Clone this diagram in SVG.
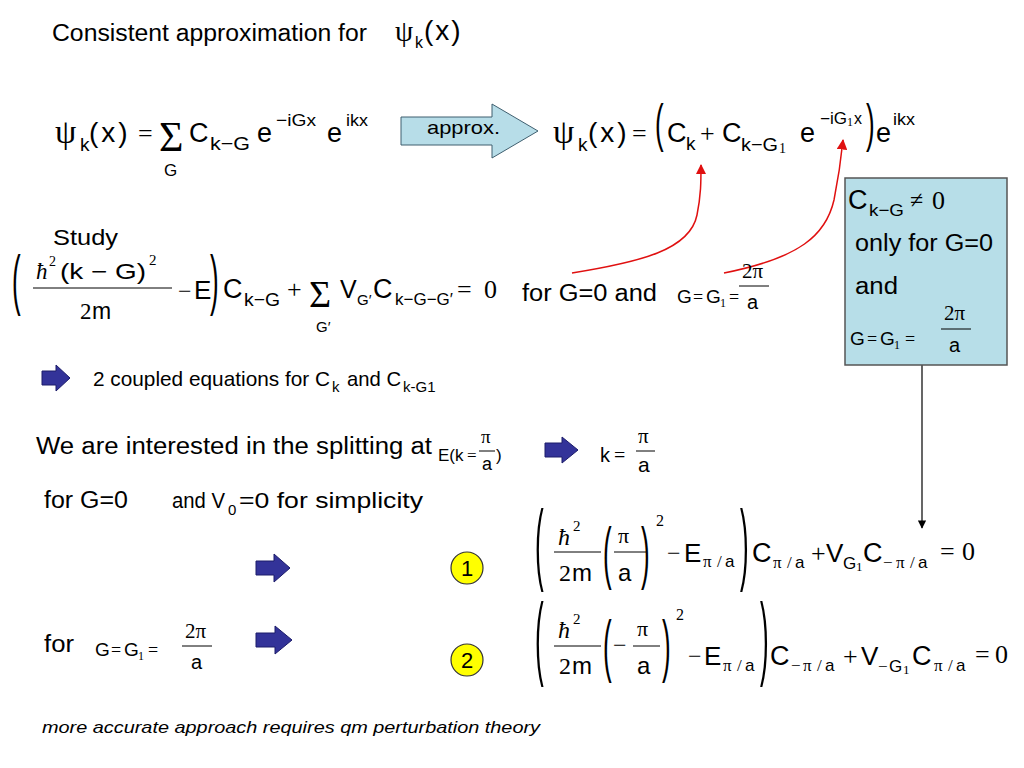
<svg xmlns="http://www.w3.org/2000/svg" width="1024" height="768" viewBox="0 0 1024 768">
<defs>
<style>
.s{font-family:"Liberation Sans",Arial,sans-serif;fill:#000}
.r{font-family:"Liberation Serif","Times New Roman",serif;fill:#000}
.it{font-style:italic}
.fl{stroke:#000;stroke-width:1}
.red{fill:none;stroke:#e01010;stroke-width:1.5}
.blk{fill:none;stroke:#000;stroke-width:1.2}
.bluearrow{fill:#333399;stroke:#1c1c6a;stroke-width:1}
.circ{fill:#ffff00;stroke:#333;stroke-width:1.2}
</style>
<marker id="mr" viewBox="0 0 10 10" refX="9" refY="5" markerWidth="7" markerHeight="7" orient="auto"><path d="M0,0 L10,5 L0,10 z" fill="#e01010"/></marker>
<marker id="mb" viewBox="0 0 10 10" refX="9" refY="5" markerWidth="7" markerHeight="7" orient="auto"><path d="M0,0 L10,5 L0,10 z" fill="#000"/></marker>
</defs>
<rect width="1024" height="768" fill="#fff"/>

<g id="title">
<text class="s" x="52" y="41" font-size="23" textLength="315" lengthAdjust="spacingAndGlyphs">Consistent approximation for</text>
<text class="r" x="395" y="41" font-size="29">ψ</text>
<text class="s" x="415" y="48" font-size="16">k</text>
<text class="s" x="424" y="40" font-size="28" letter-spacing="2">(x)</text>
</g>

<g id="eq-full">
<text class="r" x="55" y="143" font-size="34">ψ</text>
<text class="s" x="80" y="151" font-size="19">k</text>
<text class="s" x="89" y="142" font-size="28" letter-spacing="3">(x)</text>
<text class="r" x="138" y="142" font-size="26">=</text>
<text class="r" x="159" y="151" font-size="42">Σ</text>
<text class="s" x="164" y="176" font-size="17">G</text>
<text class="s" x="189" y="142" font-size="27">C</text>
<text class="s" x="210" y="150" font-size="19" textLength="40" lengthAdjust="spacingAndGlyphs">k−G</text>
<text class="s" x="257" y="142" font-size="27">e</text>
<text class="s" x="276" y="126" font-size="17" textLength="40" lengthAdjust="spacingAndGlyphs">−iGx</text>
<text class="s" x="327" y="142" font-size="27">e</text>
<text class="s" x="346" y="126" font-size="17" textLength="22" lengthAdjust="spacingAndGlyphs">ikx</text>
</g>

<g id="approx-arrow">
<polygon points="401,117 492,117 492,104 538,131 492,158 492,145 401,145" fill="#b7dde8" stroke="#3f5f6f" stroke-width="1"/>
<text class="s" x="427" y="134" font-size="19" textLength="73" lengthAdjust="spacingAndGlyphs">approx.</text>
</g>

<g id="eq-approx">
<text class="r" x="553" y="143" font-size="34">ψ</text>
<text class="s" x="578" y="151" font-size="19">k</text>
<text class="s" x="588" y="142" font-size="28" letter-spacing="3">(x)</text>
<text class="r" x="632" y="142" font-size="26">=</text>
<text class="s" font-size="26" transform="translate(655,141.2) scale(1,1.97)">(</text>
<text class="s" x="667" y="142" font-size="27">C</text>
<text class="s" x="686" y="150" font-size="19">k</text>
<text class="r" x="700" y="142" font-size="26">+</text>
<text class="s" x="722" y="142" font-size="27">C</text>
<text class="s" x="741" y="151" font-size="19" textLength="37" lengthAdjust="spacingAndGlyphs">k−G</text>
<text class="r" x="779" y="153" font-size="14">1</text>
<text class="s" x="800" y="142" font-size="27">e</text>
<text class="s" x="820" y="124" font-size="16" textLength="27" lengthAdjust="spacingAndGlyphs">−iG</text>
<text class="r" x="847" y="126" font-size="12">1</text>
<text class="s" x="854" y="124" font-size="16">x</text>
<text class="s" font-size="26" transform="translate(866,141.2) scale(1,1.97)">)</text>
<text class="s" x="876" y="142" font-size="27">e</text>
<text class="s" x="893" y="125" font-size="17" textLength="22" lengthAdjust="spacingAndGlyphs">ikx</text>
</g>

<g id="connectors">
<path class="red" d="M572,273 C640,262 690,250 697,215 C701,195 701,182 701,165" marker-end="url(#mr)"/>
<path class="red" d="M724,273 C800,258 826,235 834,200 C838,180 841,160 843,140" marker-end="url(#mr)"/>
<path class="blk" d="M922,365 L922,528" marker-end="url(#mb)"/>
</g>

<g id="condition-box">
<rect x="845" y="178" width="162" height="187" fill="#b7dee8" stroke="#555" stroke-width="1.5"/>
<text class="s" x="848" y="209" font-size="27">C</text>
<text class="s" x="869" y="216" font-size="17" textLength="35" lengthAdjust="spacingAndGlyphs">k−G</text>
<text class="r" x="910" y="208" font-size="24">≠</text>
<text class="r" x="932" y="209" font-size="26">0</text>
<text class="s" x="855" y="251" font-size="23" textLength="138" lengthAdjust="spacingAndGlyphs">only for G=0</text>
<text class="s" x="855" y="294" font-size="23" textLength="43" lengthAdjust="spacingAndGlyphs">and</text>
<text class="s" x="850" y="345" font-size="19">G</text>
<text class="r" x="867" y="345" font-size="18">=</text>
<text class="s" x="880" y="345" font-size="19">G</text>
<text class="r" x="894" y="349" font-size="12">1</text>
<text class="r" x="905" y="345" font-size="18">=</text>
<text class="r" x="944" y="320" font-size="21">2π</text>
<line class="fl" x1="941" y1="329" x2="971" y2="329"/>
<text class="s" x="949" y="352" font-size="20">a</text>
</g>

<g id="study">
<text class="s" x="53" y="245" font-size="22" textLength="65" lengthAdjust="spacingAndGlyphs">Study</text>
<text class="s" font-size="26" transform="translate(12,301.9) scale(1,2.58)">(</text>
<text class="r it" x="36" y="279" font-size="23">ħ</text>
<text class="r" x="49" y="266" font-size="14">2</text>
<text class="s" x="60" y="279" font-size="22" textLength="86" lengthAdjust="spacingAndGlyphs">(k − G)</text>
<text class="r" x="149" y="265" font-size="15">2</text>
<line class="fl" x1="33" y1="288" x2="172" y2="288"/>
<text class="r" x="80" y="319" font-size="23">2</text>
<text class="s" x="92" y="319" font-size="23">m</text>
<text class="r" x="178" y="299" font-size="24">−</text>
<text class="s" x="194" y="299" font-size="26">E</text>
<text class="s" font-size="26" transform="translate(210,301.9) scale(1,2.58)">)</text>
<text class="s" x="223" y="298" font-size="27">C</text>
<text class="s" x="244" y="306" font-size="19" textLength="36" lengthAdjust="spacingAndGlyphs">k−G</text>
<text class="r" x="287" y="298" font-size="26">+</text>
<text class="r" x="309" y="307" font-size="38">Σ</text>
<text class="s" x="316" y="332" font-size="15">G′</text>
<text class="s" x="340" y="298" font-size="25">V</text>
<text class="s" x="357" y="305" font-size="15">G′</text>
<text class="s" x="373" y="298" font-size="27">C</text>
<text class="s" x="395" y="305" font-size="17" textLength="58" lengthAdjust="spacingAndGlyphs">k−G−G′</text>
<text class="r" x="457" y="298" font-size="26">=</text>
<text class="r" x="484" y="298" font-size="26">0</text>
<text class="s" x="522" y="301" font-size="23" textLength="135" lengthAdjust="spacingAndGlyphs">for G=0 and</text>
<text class="s" x="677" y="303" font-size="19">G</text>
<text class="r" x="693" y="303" font-size="18">=</text>
<text class="s" x="706" y="303" font-size="19">G</text>
<text class="r" x="720" y="307" font-size="12">1</text>
<text class="r" x="729" y="303" font-size="18">=</text>
<text class="r" x="742" y="278" font-size="21">2π</text>
<line class="fl" x1="739" y1="286" x2="769" y2="286"/>
<text class="s" x="747" y="309" font-size="20">a</text>
</g>

<g id="coupled">
<polygon class="bluearrow" points="42,371 56,371 56,365 70,378 56,391 56,385 42,385"/>
<text class="s" y="386" font-size="21"><tspan x="93" textLength="237" lengthAdjust="spacingAndGlyphs">2 coupled equations for C</tspan><tspan x="332" y="392" font-size="15">k</tspan><tspan x="347" y="386" textLength="54" lengthAdjust="spacingAndGlyphs">and C</tspan><tspan x="403" y="392" font-size="15">k-G1</tspan></text>
</g>

<g id="splitting">
<text class="s" x="36" y="454" font-size="23" textLength="396" lengthAdjust="spacingAndGlyphs">We are interested in the splitting at</text>
<text class="s" x="438" y="461" font-size="17">E(k</text>
<text class="r" x="467" y="461" font-size="17">=</text>
<text class="r" x="481" y="443" font-size="19">π</text>
<line class="fl" x1="479" y1="451" x2="495" y2="451"/>
<text class="s" x="482" y="470" font-size="18">a</text>
<text class="s" x="496" y="461" font-size="17">)</text>
<polygon class="bluearrow" points="545,443 562,443 562,437 578,450 562,463 562,457 545,457"/>
<text class="s" x="600" y="462" font-size="20">k</text>
<text class="r" x="614" y="462" font-size="20">=</text>
<text class="r" x="638" y="443" font-size="21">π</text>
<line class="fl" x1="636" y1="451" x2="655" y2="451"/>
<text class="s" x="638" y="472" font-size="21">a</text>
</g>

<g id="g0-line">
<text class="s" x="44" y="508" font-size="23" textLength="84" lengthAdjust="spacingAndGlyphs">for G=0</text>
<text class="s" y="508" font-size="22"><tspan x="172" textLength="53" lengthAdjust="spacingAndGlyphs">and V</tspan><tspan x="228" y="515" font-size="15">0</tspan><tspan x="239" y="508" textLength="184" lengthAdjust="spacingAndGlyphs">=0 for simplicity</tspan></text>
</g>

<g id="eq1">
<polygon class="bluearrow" points="256,561 274,561 274,554 290,568 274,582 274,575 256,575"/>
<circle class="circ" cx="467" cy="568" r="16"/>
<text class="s" x="467" y="576" font-size="22" text-anchor="middle">1</text>
<text class="s" font-size="26" transform="translate(535,573.2) scale(1,3.44)">(</text>
<text class="r it" x="558" y="545" font-size="24">ħ</text>
<text class="r" x="573" y="531" font-size="15">2</text>
<line class="fl" x1="554" y1="552" x2="601" y2="552"/>
<text class="r" x="559" y="581" font-size="24">2</text>
<text class="s" x="572" y="581" font-size="24">m</text>
<text class="s" font-size="26" transform="translate(603,575.7) scale(1,2.62)">(</text>
<text class="r" x="618" y="543" font-size="22">π</text>
<line class="fl" x1="614" y1="552" x2="646" y2="552"/>
<text class="s" x="618" y="581" font-size="24">a</text>
<text class="s" font-size="26" transform="translate(641,575.7) scale(1,2.62)">)</text>
<text class="r" x="656" y="526" font-size="16">2</text>
<text class="r" x="667" y="561" font-size="24">−</text>
<text class="s" x="684" y="562" font-size="26">E</text>
<text y="567" font-size="17"><tspan class="r" x="703">π</tspan><tspan class="r" x="717">/</tspan><tspan class="s" x="725">a</tspan></text>
<text class="s" font-size="26" transform="translate(740,573.2) scale(1,3.44)">)</text>
<text class="s" x="752" y="562" font-size="27">C</text>
<text y="568" font-size="17"><tspan class="r" x="773">π</tspan><tspan class="r" x="787">/</tspan><tspan class="s" x="795">a</tspan></text>
<text class="r" x="811" y="562" font-size="26">+</text>
<text class="s" x="826" y="562" font-size="26">V</text>
<text class="s" x="843" y="569" font-size="17">G</text>
<text class="r" x="856" y="571" font-size="13">1</text>
<text class="s" x="863" y="562" font-size="27">C</text>
<text y="568" font-size="17"><tspan class="r" x="883">−</tspan><tspan class="r" x="896">π</tspan><tspan class="r" x="910">/</tspan><tspan class="s" x="918">a</tspan></text>
<text class="r" x="940" y="560" font-size="26">=</text>
<text class="r" x="962" y="560" font-size="26">0</text>
</g>

<g id="eq2">
<text class="s" x="44" y="652" font-size="23" textLength="30" lengthAdjust="spacingAndGlyphs">for</text>
<text class="s" x="95" y="656" font-size="19">G</text>
<text class="r" x="111" y="656" font-size="18">=</text>
<text class="s" x="124" y="656" font-size="19">G</text>
<text class="r" x="138" y="660" font-size="12">1</text>
<text class="r" x="148" y="656" font-size="18">=</text>
<text class="r" x="185" y="638" font-size="21">2π</text>
<line class="fl" x1="182" y1="646" x2="212" y2="646"/>
<text class="s" x="191" y="669" font-size="20">a</text>
<polygon class="bluearrow" points="256,633 275,633 275,626 292,640 275,654 275,647 256,647"/>
<circle class="circ" cx="467" cy="660" r="16"/>
<text class="s" x="467" y="668" font-size="22" text-anchor="middle">2</text>
<text class="s" font-size="26" transform="translate(535,668.3) scale(1,3.6)">(</text>
<text class="r it" x="558" y="638" font-size="24">ħ</text>
<text class="r" x="573" y="624" font-size="15">2</text>
<line class="fl" x1="554" y1="646" x2="601" y2="646"/>
<text class="r" x="559" y="674" font-size="24">2</text>
<text class="s" x="572" y="674" font-size="24">m</text>
<text class="s" font-size="26" transform="translate(603,668.5) scale(1,2.66)">(</text>
<text class="r" x="613" y="653" font-size="24">−</text>
<text class="r" x="637" y="636" font-size="22">π</text>
<line class="fl" x1="633" y1="646" x2="660" y2="646"/>
<text class="s" x="637" y="674" font-size="24">a</text>
<text class="s" font-size="26" transform="translate(662,668.5) scale(1,2.66)">)</text>
<text class="r" x="676" y="620" font-size="16">2</text>
<text class="r" x="688" y="664" font-size="24">−</text>
<text class="s" x="704" y="665" font-size="26">E</text>
<text y="671" font-size="17"><tspan class="r" x="723">π</tspan><tspan class="r" x="737">/</tspan><tspan class="s" x="745">a</tspan></text>
<text class="s" font-size="26" transform="translate(760,668.3) scale(1,3.6)">)</text>
<text class="s" x="770" y="665" font-size="27">C</text>
<text y="671" font-size="17"><tspan class="r" x="791">−</tspan><tspan class="r" x="803">π</tspan><tspan class="r" x="817">/</tspan><tspan class="s" x="825">a</tspan></text>
<text class="r" x="843" y="665" font-size="26">+</text>
<text class="s" x="861" y="665" font-size="26">V</text>
<text class="r" x="878" y="672" font-size="17">−</text>
<text class="s" x="889" y="672" font-size="17">G</text>
<text class="r" x="903" y="674" font-size="13">1</text>
<text class="s" x="912" y="665" font-size="27">C</text>
<text y="671" font-size="17"><tspan class="r" x="934">π</tspan><tspan class="r" x="948">/</tspan><tspan class="s" x="956">a</tspan></text>
<text class="r" x="975" y="663" font-size="26">=</text>
<text class="r" x="995" y="663" font-size="26">0</text>
</g>

<g id="note">
<text class="s it" x="42" y="733" font-size="17" textLength="498" lengthAdjust="spacingAndGlyphs">more accurate approach requires qm perturbation theory</text>
</g>
</svg>
